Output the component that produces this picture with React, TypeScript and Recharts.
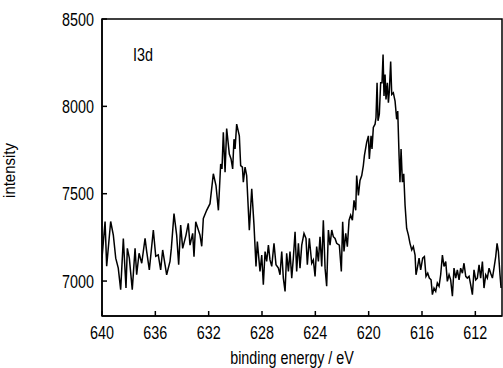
import React from 'react';
import { LineChart, Line, XAxis, YAxis, ReferenceArea, ReferenceDot } from 'recharts';

const energy: number[] = [
  640.0, 639.77, 639.65, 639.35, 639.15, 638.97, 638.78, 638.6, 638.4, 638.2,
  638.1, 637.95, 637.73, 637.52, 637.4, 637.22, 637.02, 636.77, 636.65, 636.45,
  636.15, 635.97, 635.78, 635.6, 635.45, 635.27, 635.15, 634.9, 634.8, 634.6,
  634.4, 634.25, 634.1, 633.95, 633.7, 633.53, 633.4, 633.2, 633.1, 632.97,
  632.65, 632.52, 632.4, 632.15, 631.9, 631.65, 631.45, 631.27, 631.1, 631.0,
  630.9, 630.77, 630.65, 630.45, 630.32, 630.2, 630.1, 630.02, 629.9, 629.7,
  629.6, 629.47, 629.4, 629.27, 629.15, 628.95, 628.77, 628.6, 628.45, 628.35,
  628.15, 628.02, 627.9, 627.77, 627.65, 627.52, 627.4, 627.27, 627.1, 626.95,
  626.77, 626.65, 626.52, 626.4, 626.27, 626.15, 626.02, 625.9, 625.77, 625.65,
  625.52, 625.4, 625.27, 625.15, 625.02, 624.85, 624.7, 624.6, 624.45,
  624.27, 624.15, 624.02, 623.9, 623.77, 623.65, 623.52, 623.4, 623.27, 623.15,
  623.02, 622.9, 622.77, 622.65, 622.52, 622.4, 622.2, 622.05, 621.95, 621.85,
  621.72, 621.6, 621.47, 621.35, 621.22, 621.1, 620.97, 620.9, 620.77, 620.65,
  620.52, 620.4, 620.32, 620.15, 620.02, 619.95, 619.82, 619.75, 619.65, 619.52,
  619.45, 619.37, 619.3, 619.2, 619.1, 619.0, 618.92, 618.85, 618.77, 618.7,
  618.6, 618.52, 618.45, 618.35, 618.27, 618.15, 618.02, 617.9, 617.82, 617.72,
  617.65, 617.57, 617.47, 617.37, 617.27, 617.15, 617.02,
  616.9, 616.77, 616.65, 616.52, 616.45, 616.35, 616.22, 616.1, 615.95, 615.82,
  615.7, 615.57, 615.45, 615.32, 615.22, 615.1, 614.97, 614.85, 614.72, 614.6,
  614.47, 614.35, 614.22, 614.1, 613.97, 613.85, 613.72, 613.6, 613.47, 613.35,
  613.22, 613.1, 612.97, 612.85, 612.72, 612.6, 612.47, 612.35, 612.22, 612.1,
  611.97, 611.85, 611.72, 611.6, 611.47, 611.35, 611.22, 611.1, 610.97, 610.85,
  610.72, 610.6, 610.47, 610.37, 610.27, 610.15, 610.07,
];

const counts: number[] = [
  7131, 7341, 7085, 7341, 7263, 7131, 7074, 6951, 7244, 6960,
  7187, 7131, 6951, 7187, 7036, 7159, 7102, 7244, 7170, 7064,
  7292, 7142, 7150, 7064, 7178, 7093, 7036, 7112, 7187, 7386,
  7263, 7093, 7320, 7187, 7263, 7330, 7206, 7273, 7140, 7339,
  7263, 7199, 7358, 7405, 7443, 7614, 7547, 7405, 7670, 7642,
  7851, 7623, 7873, 7727, 7699, 7642, 7812, 7756, 7898, 7831,
  7661, 7652, 7566, 7652, 7604, 7291, 7528, 7320, 7084, 7226,
  7055, 7149, 6979, 7169, 7112, 7206, 7121, 7084, 7216, 7093,
  7074, 7036, 7169, 7017, 6941, 7159, 7055, 7169, 7017, 7131,
  7282, 7055, 7216, 7074, 7206, 7273, 7244, 7093, 7244,
  7102, 7121, 7027, 7197, 7112, 7254, 7084, 7348, 7074, 6970,
  7292, 7206, 7292, 7254, 7244, 7216, 7206, 7055, 7339, 7169,
  7273, 7197, 7348, 7377, 7348, 7462, 7405, 7604, 7490, 7576,
  7604, 7661, 7718, 7794, 7831, 7699, 7831, 7756, 7879, 7898,
  7936, 8135, 7917, 7955, 8135, 8135, 8296, 8059, 8182, 8040,
  8135, 8021, 8087, 8257, 8068, 8078, 8030, 7926, 7973, 7718,
  7566, 7756, 7566, 7614, 7434, 7301, 7263,
  7216, 7178, 7197, 7149, 7036, 7074, 7131, 7064, 7131, 7140,
  7027, 7045, 7017, 7007, 6922, 6960, 6941, 6989, 6970, 7036,
  7149, 7084, 7112, 6998, 7036, 7007, 6913, 7074, 7017, 7064,
  7007, 7074, 7045, 7102, 7027, 7017, 7027, 6979, 6922, 7064,
  7007, 7017, 7093, 7017, 7112, 6960, 7036, 7017, 7074, 7045,
  7017, 7074, 7140, 7216, 7169, 7036, 6960,
];

const xTicks: number[] = [640, 636, 632, 628, 624, 620, 616, 612];
const yTicks: number[] = [7000, 7500, 8000, 8500];
const xDomain: [number, number] = [610, 640];
const yDomain: [number, number] = [6800, 8500];
const xTitle = 'binding energy / eV';
const yTitle = 'intensity';
const annotation = 'I3d';

const data = energy.map((e, i) => ({ e, v: counts[i] }));

const FONT = "'Liberation Sans', Arial, Helvetica, sans-serif";
const FS = 17.5;
const NARROW = 0.82;

const NText = (props: {
  x: number;
  y: number;
  anchor?: 'start' | 'middle' | 'end';
  size?: number;
  rotate?: number;
  sx?: number;
  children: React.ReactNode;
}) => {
  const { x, y, anchor = 'start', size = FS, rotate = 0, sx = NARROW, children } = props;
  return (
    <text
      x={0}
      y={0}
      transform={`translate(${x},${y}) rotate(${rotate}) scale(${sx},1)`}
      textAnchor={anchor}
      fontFamily={FONT}
      fontSize={size}
      fill="#000"
    >
      {children}
    </text>
  );
};

const XTick = (props: any) => {
  const { x, y, payload } = props;
  return (
    <g>
      <line x1={x} x2={x} y1={y} y2={y - 5} stroke="#000" strokeWidth={1.5} />
      <NText x={x} y={y + 23} anchor="middle">
        {payload.value}
      </NText>
    </g>
  );
};

const YTick = (props: any) => {
  const { x, y, payload } = props;
  return (
    <g>
      <line x1={x} x2={x + 5} y1={y} y2={y} stroke="#000" strokeWidth={1.5} />
      <NText x={x - 8} y={y + 6.5} anchor="end">
        {payload.value}
      </NText>
    </g>
  );
};

const XTitle = (p: any) => {
  const vb = p.viewBox || {};
  return (
    <NText x={vb.x + vb.width / 2 - 10} y={vb.y + 48} anchor="middle">
      {xTitle}
    </NText>
  );
};

const YTitle = (p: any) => {
  const vb = p.viewBox || {};
  return (
    <NText x={vb.x + 15} y={vb.y + vb.height / 2 + 3} anchor="middle" rotate={-90} size={17} sx={0.88}>
      {yTitle}
    </NText>
  );
};

const Annot = (p: any) => {
  const vb = p.viewBox || {};
  return (
    <NText x={vb.x} y={vb.y} anchor="start">
      {annotation}
    </NText>
  );
};

export default function App() {
  return (
    <div style={{ position: 'absolute', left: 0, top: 0, width: 503, height: 368, background: '#fff' }}>
      <LineChart
        width={503}
        height={368}
        data={data}
        margin={{ top: 19, right: 1, bottom: 0, left: 0 }}
      >
        <XAxis
          dataKey="e"
          type="number"
          domain={xDomain}
          reversed
          ticks={xTicks}
          interval={0}
          height={52}
          tickSize={0}
          tickMargin={0}
          tickLine={false}
          axisLine={{ stroke: '#000', strokeWidth: 1.5 }}
          tick={(props: any) => <XTick {...props} />}
          allowDataOverflow
          label={<XTitle />}
        />
        <YAxis
          type="number"
          domain={yDomain}
          ticks={yTicks}
          interval={0}
          width={102}
          tickSize={0}
          tickMargin={0}
          tickLine={false}
          axisLine={{ stroke: '#000', strokeWidth: 1.5 }}
          tick={(props: any) => <YTick {...props} />}
          allowDataOverflow
          label={<YTitle />}
        />
        <ReferenceArea
          x1={640}
          x2={610}
          y1={6800}
          y2={8500}
          fill="none"
          stroke="#000"
          strokeWidth={1.5}
          ifOverflow="visible"
        />
        <ReferenceDot
          x={637.67}
          y={8260}
          r={0}
          fill="none"
          stroke="none"
          ifOverflow="visible"
          label={<Annot />}
        />
        <Line
          type="linear"
          dataKey="v"
          stroke="#000"
          strokeWidth={1.5}
          dot={false}
          isAnimationActive={false}
        />
      </LineChart>
    </div>
  );
}
